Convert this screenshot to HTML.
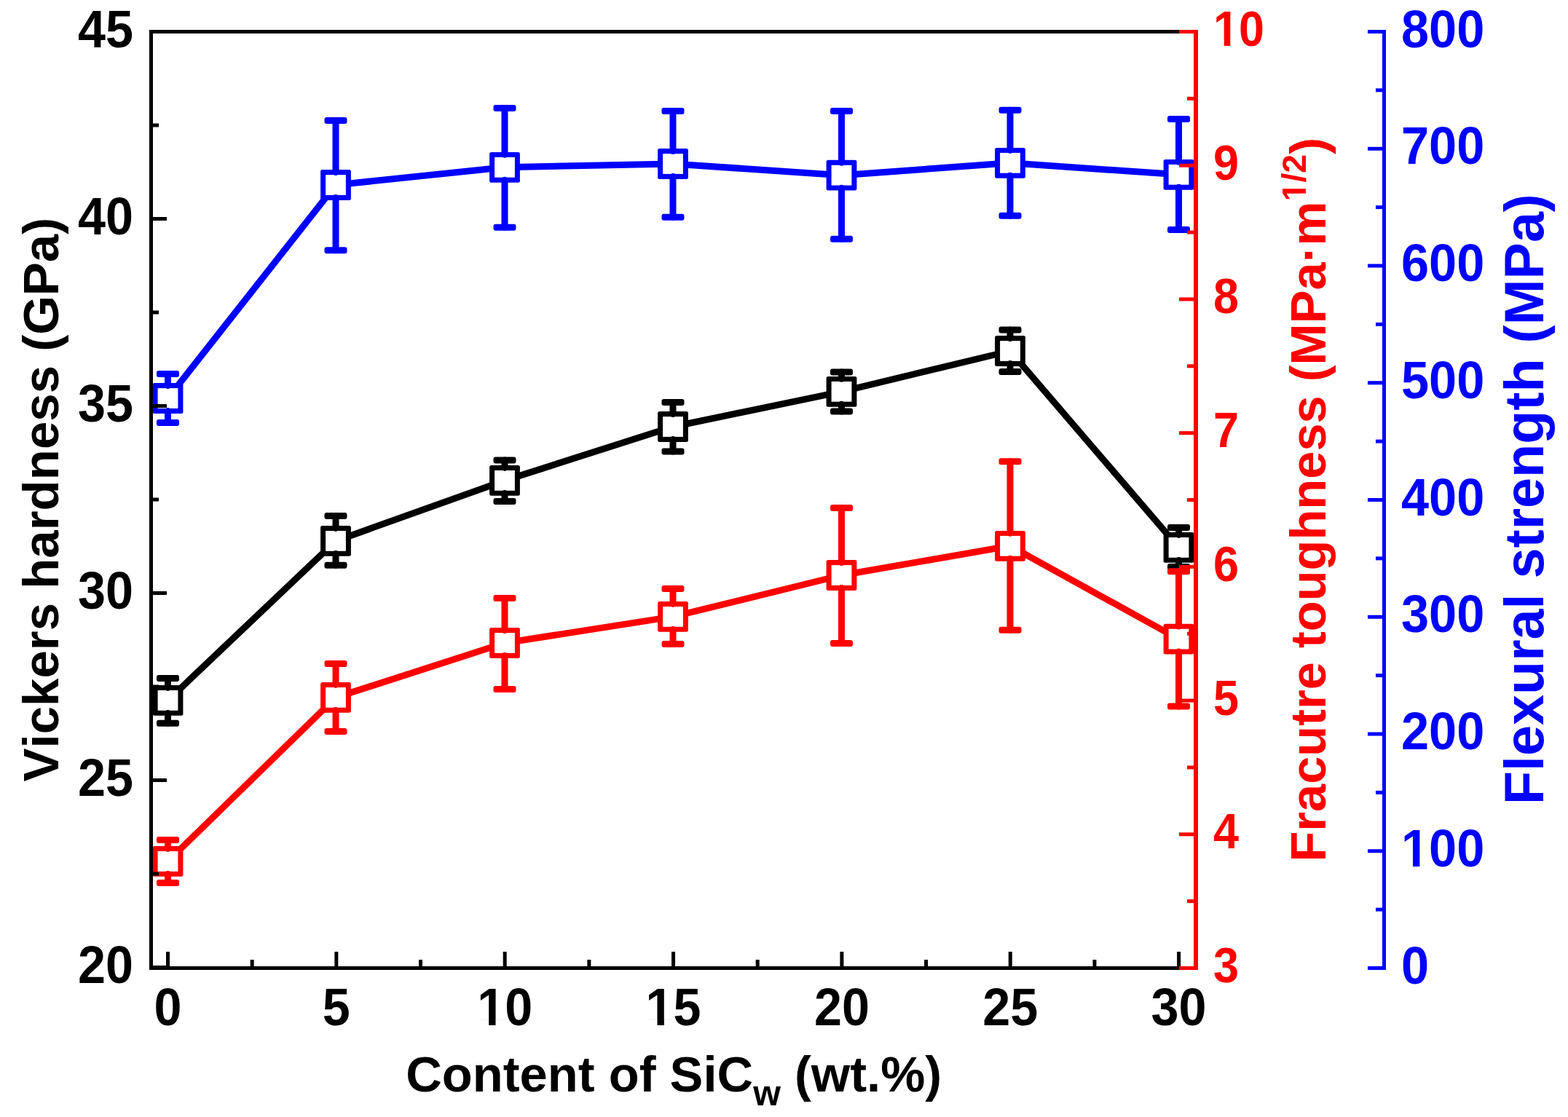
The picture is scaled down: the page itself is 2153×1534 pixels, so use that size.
<!DOCTYPE html>
<html><head><meta charset="utf-8"><title>Vickers hardness, fracture toughness and flexural strength vs SiCw content</title>
<style>html,body{margin:0;padding:0;background:#fff;width:2153px;height:1534px;overflow:hidden}svg{display:block}</style>
</head><body>
<svg width="2153" height="1534" viewBox="0 0 2153 1534" font-family="'Liberation Sans', sans-serif" font-weight="bold" style="font-kerning:none">
<rect width="100%" height="100%" fill="#fff"/>
<polyline points="230.5,961.9 461,742.9 693,659.9 924,586 1155.5,537.8 1387,482 1618.5,751.9" fill="none" stroke="#000" stroke-width="9" stroke-linejoin="round"/>
<rect x="209.6" y="941" width="41.8" height="41.8" rx="2.5" fill="#000"/>
<rect x="216.6" y="948" width="27.8" height="27.8" fill="#fff"/>
<path d="M230.5 944.4V931.5M230.5 979.4V993.3" stroke="#000" stroke-width="9" stroke-linecap="round"/>
<rect x="215" y="927" width="31" height="9" rx="3" fill="#000"/>
<rect x="215" y="988.8" width="31" height="9" rx="3" fill="#000"/>
<rect x="440.1" y="722" width="41.8" height="41.8" rx="2.5" fill="#000"/>
<rect x="447.1" y="729" width="27.8" height="27.8" fill="#fff"/>
<path d="M461 725.4V708.5M461 760.4V776.3" stroke="#000" stroke-width="9" stroke-linecap="round"/>
<rect x="445.5" y="704" width="31" height="9" rx="3" fill="#000"/>
<rect x="445.5" y="771.8" width="31" height="9" rx="3" fill="#000"/>
<rect x="672.1" y="639" width="41.8" height="41.8" rx="2.5" fill="#000"/>
<rect x="679.1" y="646" width="27.8" height="27.8" fill="#fff"/>
<path d="M693 642.4V631.9M693 677.4V688.5" stroke="#000" stroke-width="9" stroke-linecap="round"/>
<rect x="677.5" y="627.4" width="31" height="9" rx="3" fill="#000"/>
<rect x="677.5" y="684" width="31" height="9" rx="3" fill="#000"/>
<rect x="903.1" y="565.1" width="41.8" height="41.8" rx="2.5" fill="#000"/>
<rect x="910.1" y="572.1" width="27.8" height="27.8" fill="#fff"/>
<path d="M924 568.5V552.4M924 603.5V620" stroke="#000" stroke-width="9" stroke-linecap="round"/>
<rect x="908.5" y="547.9" width="31" height="9" rx="3" fill="#000"/>
<rect x="908.5" y="615.5" width="31" height="9" rx="3" fill="#000"/>
<rect x="1134.6" y="516.9" width="41.8" height="41.8" rx="2.5" fill="#000"/>
<rect x="1141.6" y="523.9" width="27.8" height="27.8" fill="#fff"/>
<path d="M1155.5 520.3V511M1155.5 555.3V565" stroke="#000" stroke-width="9" stroke-linecap="round"/>
<rect x="1140" y="506.5" width="31" height="9" rx="3" fill="#000"/>
<rect x="1140" y="560.5" width="31" height="9" rx="3" fill="#000"/>
<rect x="1366.1" y="461.1" width="41.8" height="41.8" rx="2.5" fill="#000"/>
<rect x="1373.1" y="468.1" width="27.8" height="27.8" fill="#fff"/>
<path d="M1387 464.5V452.9M1387 499.5V510.5" stroke="#000" stroke-width="9" stroke-linecap="round"/>
<rect x="1371.5" y="448.4" width="31" height="9" rx="3" fill="#000"/>
<rect x="1371.5" y="506" width="31" height="9" rx="3" fill="#000"/>
<rect x="1597.6" y="731" width="41.8" height="41.8" rx="2.5" fill="#000"/>
<rect x="1604.6" y="738" width="27.8" height="27.8" fill="#fff"/>
<path d="M1618.5 734.4V724.4M1618.5 769.4V778.5" stroke="#000" stroke-width="9" stroke-linecap="round"/>
<rect x="1603" y="719.9" width="31" height="9" rx="3" fill="#000"/>
<rect x="1603" y="774" width="31" height="9" rx="3" fill="#000"/>
<polyline points="230.5,547 461,254 693,229.8 924,225 1155.5,240.7 1387,223.8 1618.5,239.8" fill="none" stroke="#00f" stroke-width="9" stroke-linejoin="round"/>
<rect x="209.6" y="526.1" width="41.8" height="41.8" rx="2.5" fill="#00f"/>
<rect x="216.6" y="533.1" width="27.8" height="27.8" fill="#fff"/>
<path d="M230.5 529.5V513.5M230.5 564.5V580.5" stroke="#00f" stroke-width="9" stroke-linecap="round"/>
<rect x="215" y="509" width="31" height="9" rx="3" fill="#00f"/>
<rect x="215" y="576" width="31" height="9" rx="3" fill="#00f"/>
<rect x="440.1" y="233.1" width="41.8" height="41.8" rx="2.5" fill="#00f"/>
<rect x="447.1" y="240.1" width="27.8" height="27.8" fill="#fff"/>
<path d="M461 236.5V165.5M461 271.5V343.8" stroke="#00f" stroke-width="9" stroke-linecap="round"/>
<rect x="445.5" y="161" width="31" height="9" rx="3" fill="#00f"/>
<rect x="445.5" y="339.3" width="31" height="9" rx="3" fill="#00f"/>
<rect x="672.1" y="208.9" width="41.8" height="41.8" rx="2.5" fill="#00f"/>
<rect x="679.1" y="215.9" width="27.8" height="27.8" fill="#fff"/>
<path d="M693 212.3V148.4M693 247.3V312.3" stroke="#00f" stroke-width="9" stroke-linecap="round"/>
<rect x="677.5" y="143.9" width="31" height="9" rx="3" fill="#00f"/>
<rect x="677.5" y="307.8" width="31" height="9" rx="3" fill="#00f"/>
<rect x="903.1" y="204.1" width="41.8" height="41.8" rx="2.5" fill="#00f"/>
<rect x="910.1" y="211.1" width="27.8" height="27.8" fill="#fff"/>
<path d="M924 207.5V152.5M924 242.5V298.3" stroke="#00f" stroke-width="9" stroke-linecap="round"/>
<rect x="908.5" y="148" width="31" height="9" rx="3" fill="#00f"/>
<rect x="908.5" y="293.8" width="31" height="9" rx="3" fill="#00f"/>
<rect x="1134.6" y="219.8" width="41.8" height="41.8" rx="2.5" fill="#00f"/>
<rect x="1141.6" y="226.8" width="27.8" height="27.8" fill="#fff"/>
<path d="M1155.5 223.2V152.4M1155.5 258.2V328.3" stroke="#00f" stroke-width="9" stroke-linecap="round"/>
<rect x="1140" y="147.9" width="31" height="9" rx="3" fill="#00f"/>
<rect x="1140" y="323.8" width="31" height="9" rx="3" fill="#00f"/>
<rect x="1366.1" y="202.9" width="41.8" height="41.8" rx="2.5" fill="#00f"/>
<rect x="1373.1" y="209.9" width="27.8" height="27.8" fill="#fff"/>
<path d="M1387 206.3V151.3M1387 241.3V296.3" stroke="#00f" stroke-width="9" stroke-linecap="round"/>
<rect x="1371.5" y="146.8" width="31" height="9" rx="3" fill="#00f"/>
<rect x="1371.5" y="291.8" width="31" height="9" rx="3" fill="#00f"/>
<rect x="1597.6" y="218.9" width="41.8" height="41.8" rx="2.5" fill="#00f"/>
<rect x="1604.6" y="225.9" width="27.8" height="27.8" fill="#fff"/>
<path d="M1618.5 222.3V163.4M1618.5 257.3V315.4" stroke="#00f" stroke-width="9" stroke-linecap="round"/>
<rect x="1603" y="158.9" width="31" height="9" rx="3" fill="#00f"/>
<rect x="1603" y="310.9" width="31" height="9" rx="3" fill="#00f"/>
<polyline points="230.5,1182.9 461,957.9 693,883 924,846.9 1155.5,790 1387,749.8 1618.5,877.6" fill="none" stroke="#f00" stroke-width="9" stroke-linejoin="round"/>
<rect x="209.6" y="1162" width="41.8" height="41.8" rx="2.5" fill="#f00"/>
<rect x="216.6" y="1169" width="27.8" height="27.8" fill="#fff"/>
<path d="M230.5 1165.4V1153.5M230.5 1200.4V1212.5" stroke="#f00" stroke-width="9" stroke-linecap="round"/>
<rect x="215" y="1149" width="31" height="9" rx="3" fill="#f00"/>
<rect x="215" y="1208" width="31" height="9" rx="3" fill="#f00"/>
<rect x="440.1" y="937" width="41.8" height="41.8" rx="2.5" fill="#f00"/>
<rect x="447.1" y="944" width="27.8" height="27.8" fill="#fff"/>
<path d="M461 940.4V911.4M461 975.4V1004.4" stroke="#f00" stroke-width="9" stroke-linecap="round"/>
<rect x="445.5" y="906.9" width="31" height="9" rx="3" fill="#f00"/>
<rect x="445.5" y="999.9" width="31" height="9" rx="3" fill="#f00"/>
<rect x="672.1" y="862.1" width="41.8" height="41.8" rx="2.5" fill="#f00"/>
<rect x="679.1" y="869.1" width="27.8" height="27.8" fill="#fff"/>
<path d="M693 865.5V821.4M693 900.5V946.4" stroke="#f00" stroke-width="9" stroke-linecap="round"/>
<rect x="677.5" y="816.9" width="31" height="9" rx="3" fill="#f00"/>
<rect x="677.5" y="941.9" width="31" height="9" rx="3" fill="#f00"/>
<rect x="903.1" y="826" width="41.8" height="41.8" rx="2.5" fill="#f00"/>
<rect x="910.1" y="833" width="27.8" height="27.8" fill="#fff"/>
<path d="M924 829.4V808.5M924 864.4V884.5" stroke="#f00" stroke-width="9" stroke-linecap="round"/>
<rect x="908.5" y="804" width="31" height="9" rx="3" fill="#f00"/>
<rect x="908.5" y="880" width="31" height="9" rx="3" fill="#f00"/>
<rect x="1134.6" y="769.1" width="41.8" height="41.8" rx="2.5" fill="#f00"/>
<rect x="1141.6" y="776.1" width="27.8" height="27.8" fill="#fff"/>
<path d="M1155.5 772.5V697.4M1155.5 807.5V883.4" stroke="#f00" stroke-width="9" stroke-linecap="round"/>
<rect x="1140" y="692.9" width="31" height="9" rx="3" fill="#f00"/>
<rect x="1140" y="878.9" width="31" height="9" rx="3" fill="#f00"/>
<rect x="1366.1" y="728.9" width="41.8" height="41.8" rx="2.5" fill="#f00"/>
<rect x="1373.1" y="735.9" width="27.8" height="27.8" fill="#fff"/>
<path d="M1387 732.3V633.8M1387 767.3V865.3" stroke="#f00" stroke-width="9" stroke-linecap="round"/>
<rect x="1371.5" y="629.3" width="31" height="9" rx="3" fill="#f00"/>
<rect x="1371.5" y="860.8" width="31" height="9" rx="3" fill="#f00"/>
<rect x="1597.6" y="856.7" width="41.8" height="41.8" rx="2.5" fill="#f00"/>
<rect x="1604.6" y="863.7" width="27.8" height="27.8" fill="#fff"/>
<path d="M1618.5 860.1V784.7M1618.5 895.1V970.1" stroke="#f00" stroke-width="9" stroke-linecap="round"/>
<rect x="1603" y="780.2" width="31" height="9" rx="3" fill="#f00"/>
<rect x="1603" y="965.6" width="31" height="9" rx="3" fill="#f00"/>
<path d="M207.5 43.5H1642M207.5 1329.5H1642M207.5 41V1332" stroke="#000" stroke-width="5" fill="none"/>
<path d="M210 1328.5H229" stroke="#000" stroke-width="5"/>
<path d="M210 1200H218" stroke="#000" stroke-width="5"/>
<path d="M210 1071.5H229" stroke="#000" stroke-width="5"/>
<path d="M210 943H218" stroke="#000" stroke-width="5"/>
<path d="M210 814.5H229" stroke="#000" stroke-width="5"/>
<path d="M210 686H218" stroke="#000" stroke-width="5"/>
<path d="M210 557.5H229" stroke="#000" stroke-width="5"/>
<path d="M210 429H218" stroke="#000" stroke-width="5"/>
<path d="M210 300.5H229" stroke="#000" stroke-width="5"/>
<path d="M210 172H218" stroke="#000" stroke-width="5"/>
<path d="M210 43.5H229" stroke="#000" stroke-width="5"/>
<path d="M230.5 1327V1307" stroke="#000" stroke-width="5"/>
<path d="M346.18 1327V1318" stroke="#000" stroke-width="5"/>
<path d="M461.85 1327V1307" stroke="#000" stroke-width="5"/>
<path d="M577.53 1327V1318" stroke="#000" stroke-width="5"/>
<path d="M693.2 1327V1307" stroke="#000" stroke-width="5"/>
<path d="M808.88 1327V1318" stroke="#000" stroke-width="5"/>
<path d="M924.55 1327V1307" stroke="#000" stroke-width="5"/>
<path d="M1040.22 1327V1318" stroke="#000" stroke-width="5"/>
<path d="M1155.9 1327V1307" stroke="#000" stroke-width="5"/>
<path d="M1271.58 1327V1318" stroke="#000" stroke-width="5"/>
<path d="M1387.25 1327V1307" stroke="#000" stroke-width="5"/>
<path d="M1502.93 1327V1318" stroke="#000" stroke-width="5"/>
<path d="M1618.6 1327V1307" stroke="#000" stroke-width="5"/>
<path d="M1642 41V1332" stroke="#f00" stroke-width="6" fill="none"/>
<path d="M1639 1329.5H1619" stroke="#f00" stroke-width="5"/>
<path d="M1639 1237.64H1630" stroke="#f00" stroke-width="5"/>
<path d="M1639 1145.79H1619" stroke="#f00" stroke-width="5"/>
<path d="M1639 1053.93H1630" stroke="#f00" stroke-width="5"/>
<path d="M1639 962.07H1619" stroke="#f00" stroke-width="5"/>
<path d="M1639 870.22H1630" stroke="#f00" stroke-width="5"/>
<path d="M1639 778.36H1619" stroke="#f00" stroke-width="5"/>
<path d="M1639 686.5H1630" stroke="#f00" stroke-width="5"/>
<path d="M1639 594.64H1619" stroke="#f00" stroke-width="5"/>
<path d="M1639 502.79H1630" stroke="#f00" stroke-width="5"/>
<path d="M1639 410.93H1619" stroke="#f00" stroke-width="5"/>
<path d="M1639 319.07H1630" stroke="#f00" stroke-width="5"/>
<path d="M1639 227.22H1619" stroke="#f00" stroke-width="5"/>
<path d="M1639 135.36H1630" stroke="#f00" stroke-width="5"/>
<path d="M1639 43.5H1619" stroke="#f00" stroke-width="5"/>
<path d="M1900.5 41V1332" stroke="#00f" stroke-width="5" fill="none"/>
<path d="M1903 1329.5H1878" stroke="#00f" stroke-width="5"/>
<path d="M1903 1249.12H1889" stroke="#00f" stroke-width="5"/>
<path d="M1903 1168.75H1878" stroke="#00f" stroke-width="5"/>
<path d="M1903 1088.38H1889" stroke="#00f" stroke-width="5"/>
<path d="M1903 1008H1878" stroke="#00f" stroke-width="5"/>
<path d="M1903 927.62H1889" stroke="#00f" stroke-width="5"/>
<path d="M1903 847.25H1878" stroke="#00f" stroke-width="5"/>
<path d="M1903 766.88H1889" stroke="#00f" stroke-width="5"/>
<path d="M1903 686.5H1878" stroke="#00f" stroke-width="5"/>
<path d="M1903 606.12H1889" stroke="#00f" stroke-width="5"/>
<path d="M1903 525.75H1878" stroke="#00f" stroke-width="5"/>
<path d="M1903 445.38H1889" stroke="#00f" stroke-width="5"/>
<path d="M1903 365H1878" stroke="#00f" stroke-width="5"/>
<path d="M1903 284.62H1889" stroke="#00f" stroke-width="5"/>
<path d="M1903 204.25H1878" stroke="#00f" stroke-width="5"/>
<path d="M1903 123.88H1889" stroke="#00f" stroke-width="5"/>
<path d="M1903 43.5H1878" stroke="#00f" stroke-width="5"/>
<g transform="translate(107.03 1349.5) scale(1 1.05)"><text font-size="68.3">20</text></g>
<g transform="translate(107.03 1092.5) scale(1 1.05)"><text font-size="68.3">25</text></g>
<g transform="translate(107.03 835.5) scale(1 1.05)"><text font-size="68.3">30</text></g>
<g transform="translate(107.03 578.5) scale(1 1.05)"><text font-size="68.3">35</text></g>
<g transform="translate(107.03 321.5) scale(1 1.05)"><text font-size="68.3">40</text></g>
<g transform="translate(107.03 64.5) scale(1 1.05)"><text font-size="68.3">45</text></g>
<g transform="translate(211.51 1408.4) scale(1 1.05)"><text font-size="68.3">0</text></g>
<g transform="translate(442.86 1408.4) scale(1 1.05)"><text font-size="68.3">5</text></g>
<g transform="translate(655.21 1408.4) scale(1 1.05)"><text font-size="68.3">10</text><rect x="3.3" y="-7.87" width="12.64" height="9.07" fill="#fff"/><rect x="25.31" y="-7.87" width="11.77" height="9.07" fill="#fff"/></g>
<g transform="translate(886.56 1408.4) scale(1 1.05)"><text font-size="68.3">15</text><rect x="3.3" y="-7.87" width="12.64" height="9.07" fill="#fff"/><rect x="25.31" y="-7.87" width="11.77" height="9.07" fill="#fff"/></g>
<g transform="translate(1117.91 1408.4) scale(1 1.05)"><text font-size="68.3">20</text></g>
<g transform="translate(1349.26 1408.4) scale(1 1.05)"><text font-size="68.3">25</text></g>
<g transform="translate(1580.61 1408.4) scale(1 1.05)"><text font-size="68.3">30</text></g>
<g transform="translate(1666 1349) scale(1 1.08)"><text font-size="63" fill="#f00">3</text></g>
<g transform="translate(1666 1165.29) scale(1 1.08)"><text font-size="63" fill="#f00">4</text></g>
<g transform="translate(1666 981.57) scale(1 1.08)"><text font-size="63" fill="#f00">5</text></g>
<g transform="translate(1666 797.86) scale(1 1.08)"><text font-size="63" fill="#f00">6</text></g>
<g transform="translate(1666 614.14) scale(1 1.08)"><text font-size="63" fill="#f00">7</text></g>
<g transform="translate(1666 430.43) scale(1 1.08)"><text font-size="63" fill="#f00">8</text></g>
<g transform="translate(1666 246.72) scale(1 1.08)"><text font-size="63" fill="#f00">9</text></g>
<g transform="translate(1666 63) scale(1 1.08)"><text font-size="63" fill="#f00">10</text><rect x="2.97" y="-7.33" width="11.74" height="8.53" fill="#fff"/><rect x="23.35" y="-7.33" width="10.94" height="8.53" fill="#fff"/></g>
<g transform="translate(1924 1350.5) scale(1 1.05)"><text font-size="68.5" fill="#00f">0</text></g>
<g transform="translate(1924 1189.75) scale(1 1.05)"><text font-size="68.5" fill="#00f">100</text><rect x="3.31" y="-7.89" width="12.67" height="9.09" fill="#fff"/><rect x="25.39" y="-7.89" width="11.8" height="9.09" fill="#fff"/></g>
<g transform="translate(1924 1029) scale(1 1.05)"><text font-size="68.5" fill="#00f">200</text></g>
<g transform="translate(1924 868.25) scale(1 1.05)"><text font-size="68.5" fill="#00f">300</text></g>
<g transform="translate(1924 707.5) scale(1 1.05)"><text font-size="68.5" fill="#00f">400</text></g>
<g transform="translate(1924 546.75) scale(1 1.05)"><text font-size="68.5" fill="#00f">500</text></g>
<g transform="translate(1924 386) scale(1 1.05)"><text font-size="68.5" fill="#00f">600</text></g>
<g transform="translate(1924 225.25) scale(1 1.05)"><text font-size="68.5" fill="#00f">700</text></g>
<g transform="translate(1924 64.5) scale(1 1.05)"><text font-size="68.5" fill="#00f">800</text></g>
<text transform="translate(80 1073.5) rotate(-90)" font-size="69">Vickers hardness (GPa)</text>
<text x="557.2" y="1499" font-size="68.7">Content of SiC<tspan font-size="48.5" dy="19">w</tspan><tspan dy="-19"> (wt.%)</tspan></text>
<g transform="translate(1820 1183.6) rotate(-90)" fill="#f00"><text font-size="68.6">Fracutre toughness (MPa·m<tspan font-size="46.6" dy="-27.3">1/2</tspan><tspan dy="27.3">)</tspan></text><g transform="translate(907.17 -27.3)"><rect x="1.94" y="-5.66" width="8.94" height="6.86" fill="#fff"/><rect x="17.27" y="-5.66" width="8.35" height="6.86" fill="#fff"/></g></g>
<text transform="translate(2119 1105) rotate(-90)" font-size="75.5" fill="#00f">Flexural strength (MPa)</text>
</svg>
</body></html>
